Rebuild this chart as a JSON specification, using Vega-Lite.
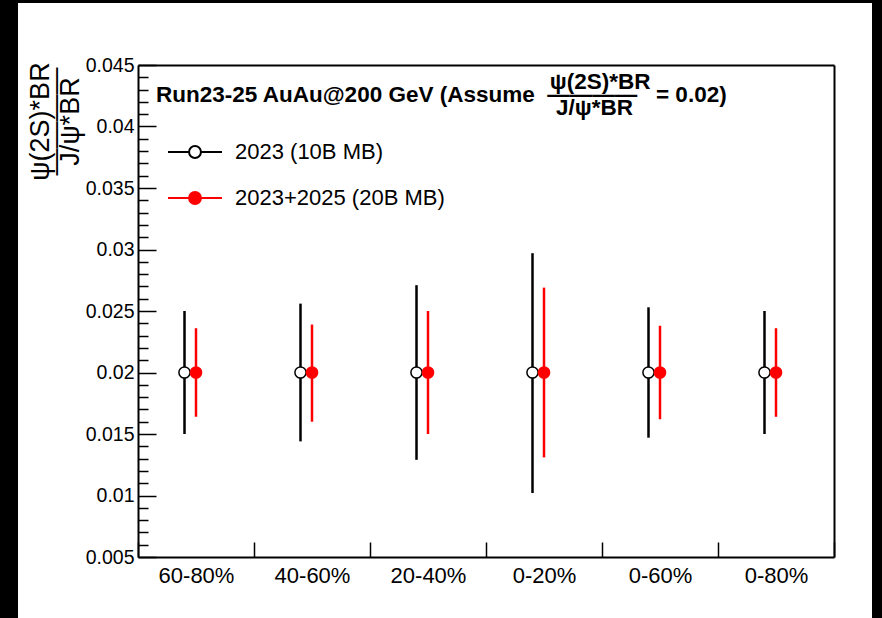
{
  "$schema": "https://vega.github.io/schema/vega-lite/v6.json",
  "width": 854,
  "height": 615,
  "autosize": {"type": "none"},
  "padding": {"left": 18, "top": 3, "right": 10, "bottom": 0},
  "background": "black",
  "config": {
    "view": {"fill": "white", "stroke": null},
    "font": "Liberation Sans",
    "axis": {
      "grid": false,
      "domainColor": "black",
      "domainWidth": 2,
      "tickColor": "black",
      "labelColor": "black",
      "titleColor": "black",
      "labelFont": "Liberation Sans",
      "titleFont": "Liberation Sans"
    }
  },
  "title": {
    "text": [
      "\u200b\u00a0\u00a0\u00a0\u00a0\u00a0\u00a0\u00a0\u00a0\u00a0\u00a0\u00a0\u00a0\u00a0\u00a0\u00a0\u00a0\u00a0\u00a0\u00a0\u00a0\u00a0\u00a0\u00a0\u00a0\u00a0\u00a0\u00a0\u00a0\u00a0\u00a0\u00a0\u00a0\u00a0\u00a0\u00a0\u00a0\u00a0\u00a0\u00a0\u00a0\u00a0\u00a0\u00a0\u00a0\u00a0\u00a0\u00a0\u00a0\u00a0\u00a0\u00a0\u00a0\u00a0\u00a0\u00a0\u00a0\u00a0\u00a0\u00a0\u00a0\u00a0\u00a0\u00a0ψ(2S)*BR",
      "Run23-25 AuAu@200 GeV (Assume\u00a0\u00a0————\u00a0\u00a0\u00a0= 0.02)",
      "\u200b\u00a0\u00a0\u00a0\u00a0\u00a0\u00a0\u00a0\u00a0\u00a0\u00a0\u00a0\u00a0\u00a0\u00a0\u00a0\u00a0\u00a0\u00a0\u00a0\u00a0\u00a0\u00a0\u00a0\u00a0\u00a0\u00a0\u00a0\u00a0\u00a0\u00a0\u00a0\u00a0\u00a0\u00a0\u00a0\u00a0\u00a0\u00a0\u00a0\u00a0\u00a0\u00a0\u00a0\u00a0\u00a0\u00a0\u00a0\u00a0\u00a0\u00a0\u00a0\u00a0\u00a0\u00a0\u00a0\u00a0\u00a0\u00a0\u00a0\u00a0\u00a0\u00a0\u00a0\u00a0J/ψ*BR"
    ],
    "anchor": "start",
    "frame": "group",
    "orient": "top",
    "offset": 0,
    "dx": 138,
    "dy": 134,
    "baseline": "alphabetic",
    "font": "Liberation Sans",
    "fontSize": 22.5,
    "fontWeight": "bold",
    "lineHeight": 13,
    "color": "black"
  },
  "data": {
    "values": [
      {"cat": "60-80%", "series": "2023 (10B MB)", "val": 0.02, "lo": 0.0150, "hi": 0.0250},
      {"cat": "60-80%", "series": "2023+2025 (20B MB)", "val": 0.02, "lo": 0.0164, "hi": 0.0236},
      {"cat": "40-60%", "series": "2023 (10B MB)", "val": 0.02, "lo": 0.0144, "hi": 0.0256},
      {"cat": "40-60%", "series": "2023+2025 (20B MB)", "val": 0.02, "lo": 0.0160, "hi": 0.0239},
      {"cat": "20-40%", "series": "2023 (10B MB)", "val": 0.02, "lo": 0.0129, "hi": 0.0271},
      {"cat": "20-40%", "series": "2023+2025 (20B MB)", "val": 0.02, "lo": 0.0150, "hi": 0.0250},
      {"cat": "0-20%", "series": "2023 (10B MB)", "val": 0.02, "lo": 0.0102, "hi": 0.0297},
      {"cat": "0-20%", "series": "2023+2025 (20B MB)", "val": 0.02, "lo": 0.0131, "hi": 0.0269},
      {"cat": "0-60%", "series": "2023 (10B MB)", "val": 0.02, "lo": 0.0147, "hi": 0.0253},
      {"cat": "0-60%", "series": "2023+2025 (20B MB)", "val": 0.02, "lo": 0.0162, "hi": 0.0238},
      {"cat": "0-80%", "series": "2023 (10B MB)", "val": 0.02, "lo": 0.0150, "hi": 0.0250},
      {"cat": "0-80%", "series": "2023+2025 (20B MB)", "val": 0.02, "lo": 0.0164, "hi": 0.0236}
    ]
  },
  "layer": [
    {
      "transform": [{"filter": "datum.series === '2023 (10B MB)'"}],
      "mark": {"type": "rule", "color": "black", "strokeWidth": 2.5},
      "encoding": {
        "x": {
          "field": "cat", "type": "nominal", "sort": null,
          "scale": {"type": "band", "domain": ["60-80%", "40-60%", "20-40%", "0-20%", "0-60%", "0-80%"], "range": [120, 816], "paddingInner": 0, "paddingOuter": 0},
          "axis": {"orient": "bottom", "offset": -61, "title": null, "tickBand": "extent", "tickSize": -15, "tickWidth": 1.5, "labelFontSize": 22, "labelAngle": 0, "labelPadding": 23}
        },
        "xOffset": {"field": "series", "type": "nominal", "scale": {"domain": ["2023 (10B MB)", "2023+2025 (20B MB)"], "range": [40.75, 63.75], "paddingInner": 0, "paddingOuter": 0}},
        "y": {
          "field": "lo", "type": "quantitative",
          "scale": {"domain": [0.005, 0.045], "range": [554, 62], "nice": false, "zero": false},
          "axis": {
            "orient": "left", "offset": -120,
            "values": [0.005, 0.01, 0.015, 0.02, 0.025, 0.03, 0.035, 0.04, 0.045],
            "format": ".3~f", "tickSize": -18, "tickWidth": 1.5,
            "labelFontSize": 19.5, "labelPadding": 22,
            "title": ["ψ(2S)*BR", "————", "J/ψ*BR"],
            "titleFontSize": 27, "titleFontWeight": "normal", "titleAngle": -90,
            "titleAlign": "center", "titleBaseline": "alphabetic",
            "titleX": -90, "titleY": 118, "titleLineHeight": 15
          }
        },
        "y2": {"field": "hi"}
      }
    },
    {
      "transform": [{"filter": "datum.series === '2023+2025 (20B MB)'"}],
      "mark": {"type": "rule", "color": "#ff0000", "strokeWidth": 2.5},
      "encoding": {
        "x": {
          "field": "cat", "type": "nominal", "sort": null,
          "axis": {"orient": "top", "offset": -62, "title": null, "ticks": false, "labels": false}
        },
        "xOffset": {"field": "series", "type": "nominal"},
        "y": {
          "field": "lo", "type": "quantitative",
          "axis": {
            "orient": "left", "offset": -120, "domain": false, "labels": false, "title": null,
            "tickSize": -10, "tickWidth": 1.5,
            "values": [0.006, 0.007, 0.008, 0.009, 0.011, 0.012, 0.013, 0.014, 0.016, 0.017, 0.018, 0.019, 0.021, 0.022, 0.023, 0.024, 0.026, 0.027, 0.028, 0.029, 0.031, 0.032, 0.033, 0.034, 0.036, 0.037, 0.038, 0.039, 0.041, 0.042, 0.043, 0.044]
          }
        },
        "y2": {"field": "hi"}
      }
    },
    {
      "mark": {"type": "point", "shape": "circle", "filled": true, "size": 125, "strokeWidth": 1.5, "opacity": 1},
      "encoding": {
        "x": {"field": "cat", "type": "nominal", "sort": null, "axis": null},
        "xOffset": {"field": "series", "type": "nominal"},
        "y": {
          "field": "val", "type": "quantitative",
          "axis": {"orient": "right", "offset": -38, "title": null, "ticks": false, "labels": false}
        },
        "stroke": {
          "field": "series", "type": "nominal",
          "scale": {"domain": ["2023 (10B MB)", "2023+2025 (20B MB)"], "range": ["black", "#ff0000"]},
          "legend": {
            "title": null, "orient": "none", "legendX": 149, "legendY": 121, "padding": 0,
            "symbolType": "M-1,0H-0.22M0.22,0H1M-0.22,0A0.22,0.22,0,1,0,0.22,0A0.22,0.22,0,1,0,-0.22,0Z",
            "symbolSize": 2916, "symbolStrokeWidth": 2,
            "labelFont": "Liberation Sans", "labelFontSize": 22, "labelColor": "black",
            "labelOffset": 12, "rowPadding": 7, "labelLimit": 400
          }
        },
        "fill": {
          "field": "series", "type": "nominal",
          "scale": {"domain": ["2023 (10B MB)", "2023+2025 (20B MB)"], "range": ["white", "#ff0000"]},
          "legend": {
            "title": null, "orient": "none", "legendX": 149, "legendY": 121, "padding": 0,
            "symbolType": "M-1,0H-0.22M0.22,0H1M-0.22,0A0.22,0.22,0,1,0,0.22,0A0.22,0.22,0,1,0,-0.22,0Z",
            "symbolSize": 2916, "symbolStrokeWidth": 2,
            "labelFont": "Liberation Sans", "labelFontSize": 22, "labelColor": "black",
            "labelOffset": 12, "rowPadding": 7, "labelLimit": 400
          }
        }
      }
    }
  ],
  "resolve": {"axis": {"x": "independent", "y": "independent"}}
}
